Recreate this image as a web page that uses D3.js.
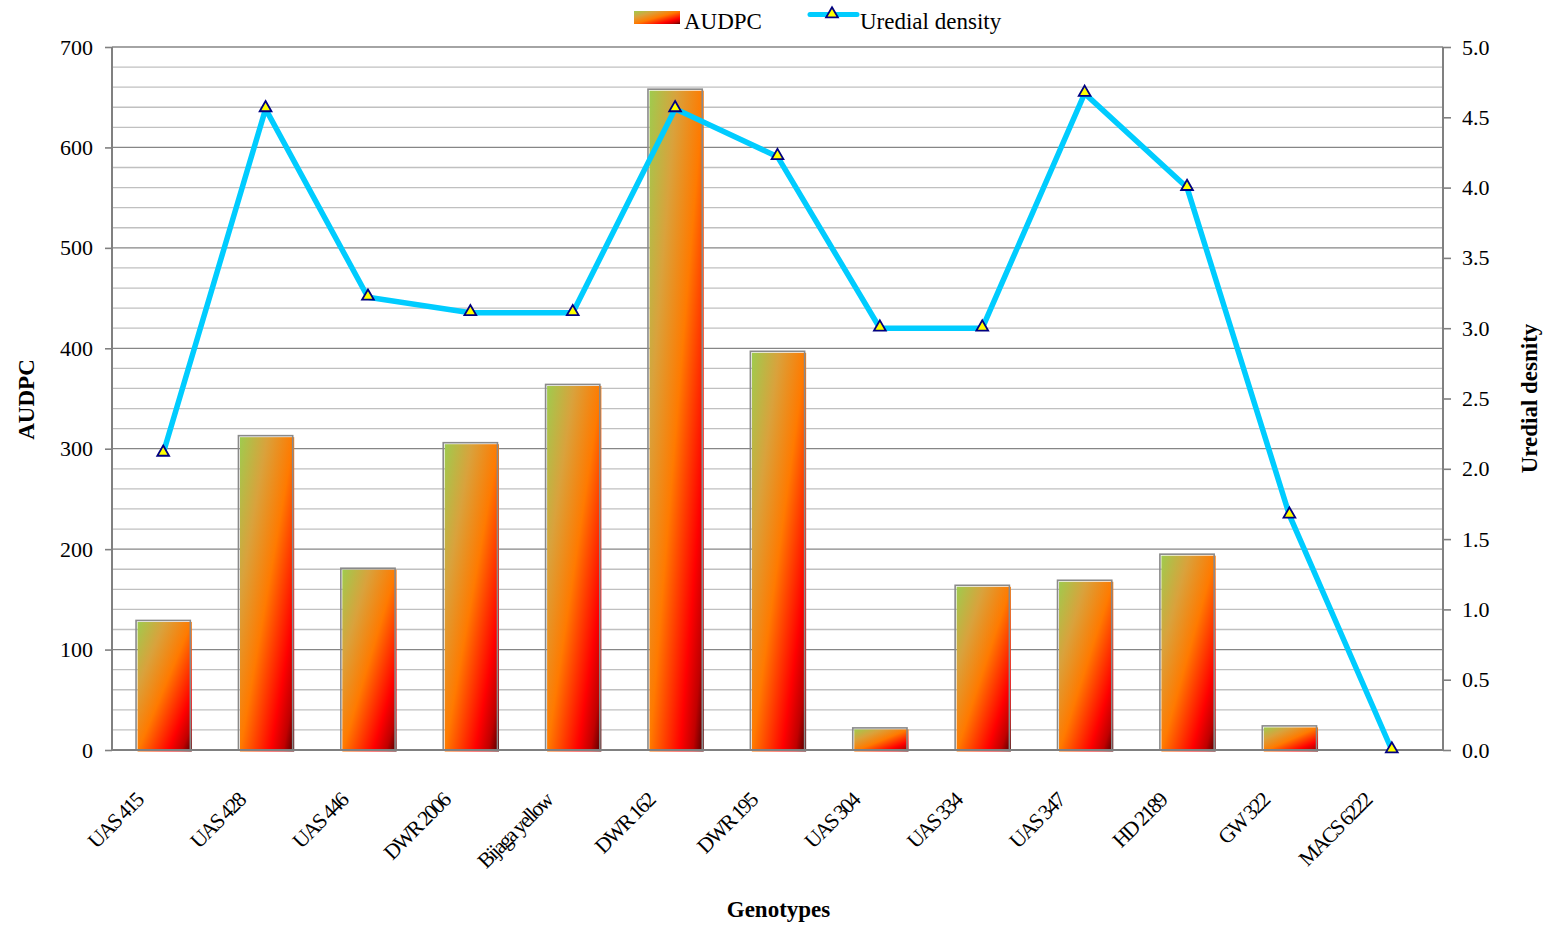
<!DOCTYPE html>
<html>
<head>
<meta charset="utf-8">
<script src="https://cdn.jsdelivr.net/npm/d3@7/dist/d3.min.js"></script>
<style>
  html, body { margin: 0; padding: 0; background: #fff; }
  svg { display: block; }
  svg text { font-family: "Liberation Serif", "Times New Roman", serif; fill: #000; }
</style>
</head>
<body>
<svg id="chart" width="1549" height="927"></svg>
<script>
// Genotypes on the x axis
const genotypes = ["UAS 415", "UAS 428", "UAS 446", "DWR 2006", "Bijaga yellow", "DWR 162",
  "DWR 195", "UAS 304", "UAS 334", "UAS 347", "HD 2189", "GW 322", "MACS 6222"];
// Area under disease progress curve (bars, left axis)
const audpc = [129, 313, 181, 306, 364, 658, 397, 22, 164, 169, 195, 24, 0];
// Uredial density (line, right axis)
const uredialDensity = [2.11, 4.56, 3.22, 3.11, 3.11, 4.56, 4.22, 3.0, 3.0, 4.67, 4.0, 1.67, 0];
// Axis ticks
const leftTicks = [0, 100, 200, 300, 400, 500, 600, 700];
const rightTicks = [0, 0.5, 1.0, 1.5, 2.0, 2.5, 3.0, 3.5, 4.0, 4.5, 5.0];
const minorGrid = d3.range(0, 701, 20);

const svg = d3.select("#chart");
const m = { left: 112, right: 1443, top: 47, bottom: 750 };

const x = d3.scaleBand().domain(genotypes).range([m.left, m.right])
  .paddingInner(0.47).paddingOuter(0.235);
const cx = d => x(d) + x.bandwidth() / 2;
const yL = d3.scaleLinear().domain([0, 700]).range([m.bottom, m.top]);
const yR = d3.scaleLinear().domain([0, 5]).range([m.bottom, m.top]);

// Bar fill gradient
const defs = svg.append("defs");
const grad = defs.append("linearGradient").attr("id", "barGrad")
  .attr("x1", 0).attr("y1", 0).attr("x2", 1).attr("y2", 1);
[[0, "#9fcb4e"], [0.25, "#d9a23c"], [0.5, "#ff7a00"], [0.78, "#ff0000"], [0.9, "#c00000"], [1, "#4a0000"]]
  .forEach(([o, c]) => grad.append("stop").attr("offset", o).attr("stop-color", c));

// Gridlines
svg.append("g").selectAll("line").data(minorGrid.filter(v => v % 100 !== 0)).join("line")
  .attr("x1", m.left).attr("x2", m.right)
  .attr("y1", d => yL(d)).attr("y2", d => yL(d))
  .attr("stroke", "#c0c0c0").attr("stroke-width", 1.3);
svg.append("g").selectAll("line").data(leftTicks.filter(v => v > 0)).join("line")
  .attr("x1", m.left).attr("x2", m.right)
  .attr("y1", d => yL(d)).attr("y2", d => yL(d))
  .attr("stroke", "#868686").attr("stroke-width", 1.3);

// Bars
const bars = svg.append("g");
bars.selectAll("rect.fill").data(genotypes).join("rect").attr("class", "fill")
  .attr("x", d => x(d) + 1.5)
  .attr("y", (d, i) => yL(audpc[i]) + 1.5)
  .attr("width", x.bandwidth())
  .attr("height", (d, i) => Math.max(0, yL(0) - yL(audpc[i])))
  .attr("fill", "url(#barGrad)")
  .style("display", (d, i) => audpc[i] > 0 ? null : "none");
bars.selectAll("rect.edge").data(genotypes).join("rect").attr("class", "edge")
  .attr("x", d => x(d))
  .attr("y", (d, i) => yL(audpc[i]))
  .attr("width", x.bandwidth())
  .attr("height", (d, i) => Math.max(0, yL(0) - yL(audpc[i])))
  .attr("fill", "none").attr("stroke", "#8a8a8a").attr("stroke-width", 1.6)
  .style("display", (d, i) => audpc[i] > 0 ? null : "none");

// Axes
const axisColor = "#808080";
const gl = svg.append("g").attr("transform", `translate(${m.left},0)`)
  .call(d3.axisLeft(yL).tickValues(leftTicks).tickSize(7).tickPadding(12));
const gr = svg.append("g").attr("transform", `translate(${m.right},0)`)
  .call(d3.axisRight(yR).tickValues(rightTicks).tickSize(8).tickFormat(d3.format(".1f")).tickPadding(11));
[gl, gr].forEach(g => {
  g.attr("font-family", null).attr("font-size", null);
  g.select(".domain").attr("stroke", axisColor).attr("stroke-width", 2)
    .attr("d", `M0,${m.top}V${m.bottom}`);
  g.selectAll(".tick line").attr("stroke", axisColor).attr("stroke-width", 1.6);
  g.selectAll(".tick text").style("font-size", "22px").attr("fill", "#000");
});
// Category axis baseline
svg.append("line").attr("x1", m.left).attr("x2", m.right)
  .attr("y1", m.bottom).attr("y2", m.bottom)
  .attr("stroke", axisColor).attr("stroke-width", 2);

// Category labels
svg.append("g").selectAll("text").data(genotypes).join("text")
  .attr("transform", d => `translate(${cx(d) - 19},${m.bottom + 52}) rotate(-45)`)
  .attr("text-anchor", "end")
  .style("font-size", "21.5px").attr("letter-spacing", "-1.9px")
  .text(d => d);

// Uredial density line
const line = d3.line().x((d, i) => cx(genotypes[i])).y(d => yR(d));
svg.append("path").datum(uredialDensity).attr("d", line)
  .attr("fill", "none").attr("stroke", "#00ccff").attr("stroke-width", 5.5)
  .attr("stroke-linejoin", "miter");
const tri = d3.symbol().type(d3.symbolTriangle).size(60);
svg.append("g").selectAll("path").data(uredialDensity).join("path")
  .attr("d", tri)
  .attr("transform", (d, i) => `translate(${cx(genotypes[i])},${yR(d) - 1})`)
  .attr("fill", "#ffff00").attr("stroke", "#000080").attr("stroke-width", 1.8);

// Axis titles
svg.append("text").attr("transform", `translate(34,${(m.top + m.bottom) / 2 + 1}) rotate(-90)`)
  .attr("text-anchor", "middle").style("font-size", "23px").attr("font-weight", "bold").text("AUDPC");
svg.append("text").attr("transform", `translate(1537,${(m.top + m.bottom) / 2}) rotate(-90)`)
  .attr("text-anchor", "middle").style("font-size", "23px").attr("font-weight", "bold").text("Uredial desnity");
svg.append("text").attr("x", (m.left + m.right) / 2 + 1).attr("y", 917)
  .attr("text-anchor", "middle").style("font-size", "23px").attr("font-weight", "bold").text("Genotypes");

// Legend
const lg = svg.append("g");
lg.append("rect").attr("x", 634).attr("y", 11).attr("width", 46).attr("height", 13)
  .attr("fill", "url(#barGrad)");
lg.append("text").attr("x", 684).attr("y", 29).style("font-size", "23px").text("AUDPC");
lg.append("line").attr("x1", 810).attr("x2", 857).attr("y1", 14.5).attr("y2", 14.5)
  .attr("stroke", "#00ccff").attr("stroke-width", 5).attr("stroke-linecap", "round");
lg.append("path").attr("d", tri).attr("transform", "translate(832,14)")
  .attr("fill", "#ffff00").attr("stroke", "#000080").attr("stroke-width", 1.8);
lg.append("text").attr("x", 860).attr("y", 29).style("font-size", "23px").text("Uredial density");
</script>
</body>
</html>
